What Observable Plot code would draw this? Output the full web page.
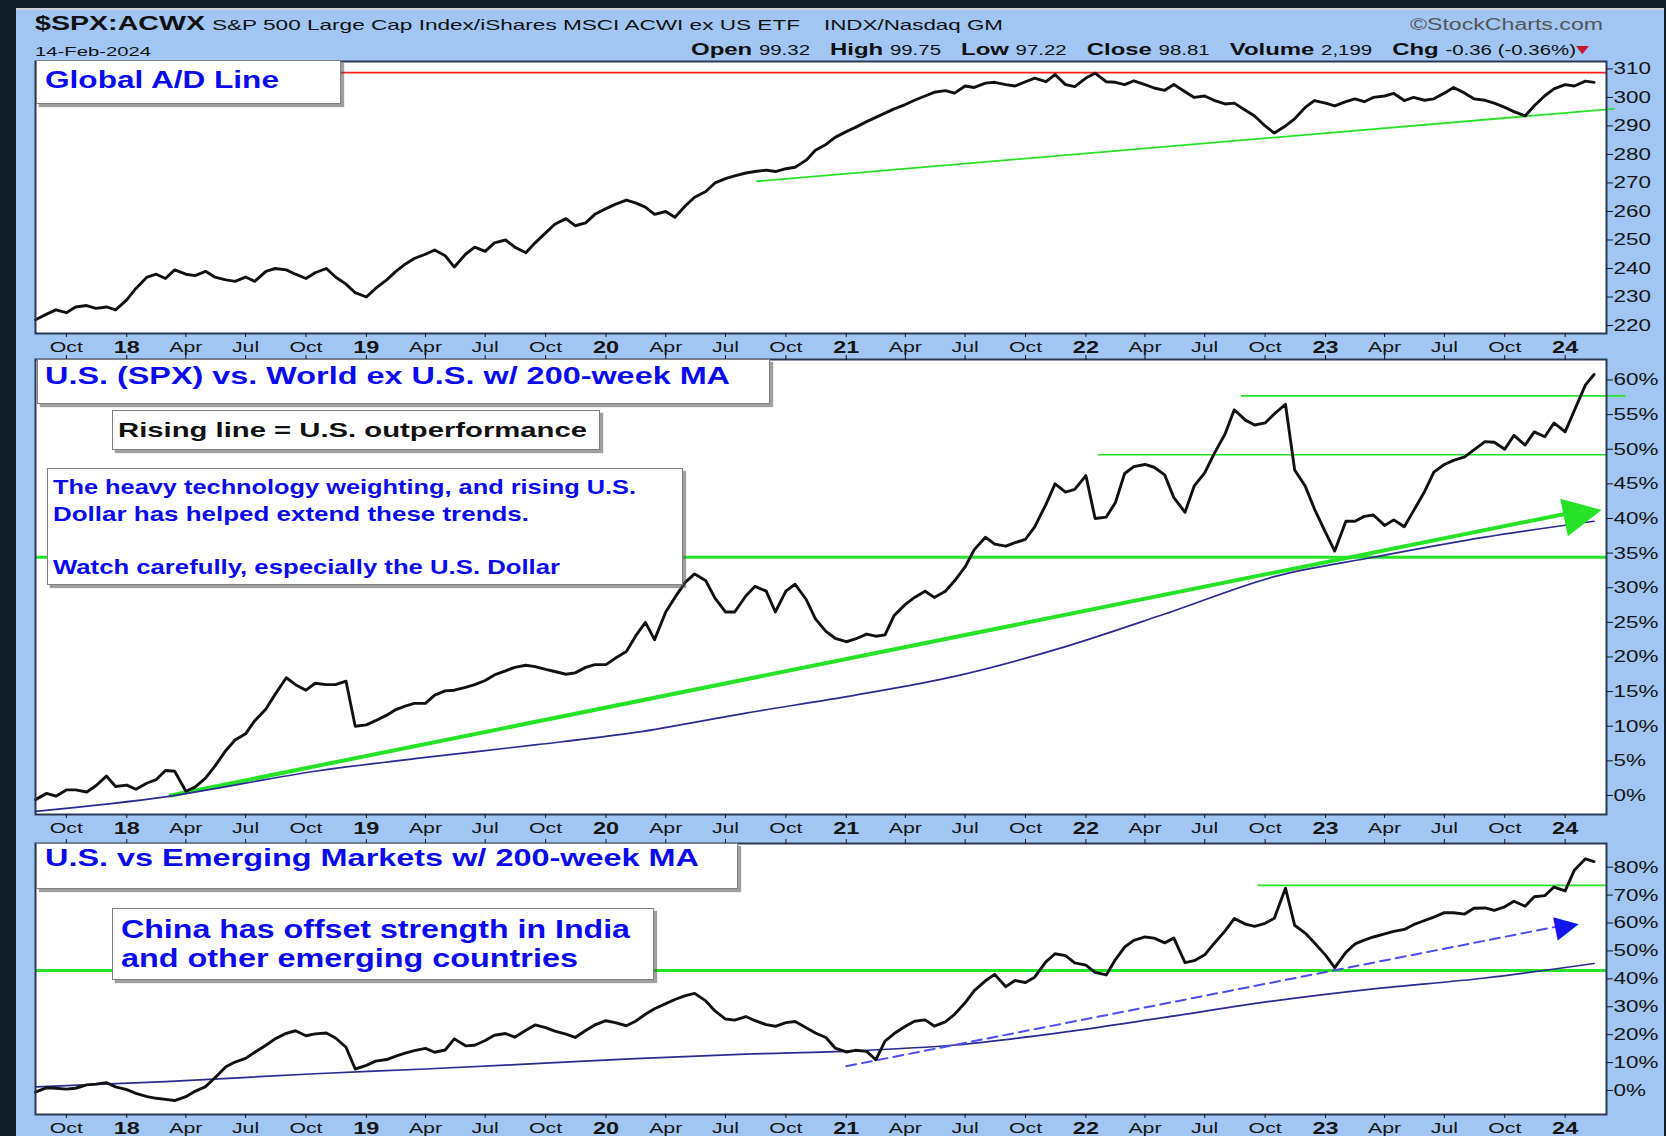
<!DOCTYPE html>
<html>
<head>
<meta charset="utf-8">
<script src="https://cdn.jsdelivr.net/npm/d3@7"></script>
<script src="https://cdn.jsdelivr.net/npm/@observablehq/plot@0.6"></script>
<style>
  html, body { margin:0; padding:0; background:#0f1d29; }
  #page { position:relative; width:1666px; height:1136px; overflow:hidden; background:#0f1d29; }
  #bg { position:absolute; left:16px; top:8px; width:1648px; height:1128px; background:#a1c6f4; border-top:2px solid #cdd2d8; }
  .t { position:absolute; white-space:nowrap; line-height:1; font-family:"Liberation Sans", Arial, sans-serif; transform-origin:0 50%; }
  .box { position:absolute; background:#fff; border:1px solid #808080; box-shadow:3px 3px 1px rgba(80,80,80,0.55); box-sizing:border-box; }
</style>
</head>
<body>
<div id="page"><div id="bg"></div></div>
<script>
// ---------------- DATA ----------------
const dates = [
"2017-08-15","2017-09-01","2017-09-15","2017-10-01","2017-10-15","2017-11-01","2017-11-15","2017-12-01","2017-12-15",
"2018-01-01","2018-01-15","2018-02-01","2018-02-15","2018-03-01","2018-03-15","2018-04-01","2018-04-15","2018-05-01","2018-05-15","2018-06-01","2018-06-15",
"2018-07-01","2018-07-15","2018-08-01","2018-08-15","2018-09-01","2018-09-15","2018-10-01","2018-10-15","2018-11-01","2018-11-15","2018-12-01","2018-12-15",
"2019-01-01","2019-01-15","2019-02-01","2019-02-15","2019-03-01","2019-03-15","2019-04-01","2019-04-15","2019-05-01","2019-05-15","2019-06-01","2019-06-15",
"2019-07-01","2019-07-15","2019-08-01","2019-08-15","2019-09-01","2019-09-15","2019-10-01","2019-10-15","2019-11-01","2019-11-15","2019-12-01","2019-12-15",
"2020-01-01","2020-01-15","2020-02-01","2020-02-15","2020-03-01","2020-03-15","2020-04-01","2020-04-15","2020-05-01","2020-05-15","2020-06-01","2020-06-15",
"2020-07-01","2020-07-15","2020-08-01","2020-08-15","2020-09-01","2020-09-15","2020-10-01","2020-10-15","2020-11-01","2020-11-15","2020-12-01","2020-12-15",
"2021-01-01","2021-01-15","2021-02-01","2021-02-15","2021-03-01","2021-03-15","2021-04-01","2021-04-15","2021-05-01","2021-05-15","2021-06-01","2021-06-15",
"2021-07-01","2021-07-15","2021-08-01","2021-08-15","2021-09-01","2021-09-15","2021-10-01","2021-10-15","2021-11-01","2021-11-15","2021-12-01","2021-12-15",
"2022-01-01","2022-01-15","2022-02-01","2022-02-15","2022-03-01","2022-03-15","2022-04-01","2022-04-15","2022-05-01","2022-05-15","2022-06-01","2022-06-15",
"2022-07-01","2022-07-15","2022-08-01","2022-08-15","2022-09-01","2022-09-15","2022-10-01","2022-10-15","2022-11-01","2022-11-15","2022-12-01","2022-12-15",
"2023-01-01","2023-01-15","2023-02-01","2023-02-15","2023-03-01","2023-03-15","2023-04-01","2023-04-15","2023-05-01","2023-05-15","2023-06-01","2023-06-15",
"2023-07-01","2023-07-15","2023-08-01","2023-08-15","2023-09-01","2023-09-15","2023-10-01","2023-10-15","2023-11-01","2023-11-15","2023-12-01","2023-12-15",
"2024-01-01","2024-01-15","2024-02-01","2024-02-14"
];

// Global A/D line
const adLine = [
222,224,225.5,224.5,226.5,227,226,226.5,225.5,
229,233,237,238,236.5,239.5,238,237.5,239,237,236,235.5,237,235.5,239,240,239.5,238,236.5,238.5,240,237,234.5,231.5,
230,233,236,239,241.5,243.5,245,246.5,244.5,240.5,245,247.5,246,249,250,247.5,245.5,249,252.5,255.5,257.5,255,256,259,
261,262.5,264,263,261.5,259,260,258,262,265,267,270,271.5,272.5,273.5,274,274.5,274,275,275.5,278,281.5,283.5,286,
288,289.5,291.5,293,294.5,296,297.5,299,300.5,301.8,302.4,301.5,304,303.5,305,305.3,304.5,304,305.5,306.8,305.5,308,304.5,303.8,
306.8,308.5,305.5,305.3,304.5,305.8,304.5,303.3,302.5,304.5,302,300,300.5,299,297.7,298,295.5,293.5,290,287.5,290,292.5,296.5,298.9,
298,297,298.5,299.5,298.5,300,300.5,301.4,298.9,300,299,299.5,301.5,303.5,301.5,299.5,299,298,296.5,295,293.5,297.1,300.6,303,
304.5,304,305.7,305.3
];

// U.S. (SPX) vs World ex U.S. (relative, %)
const usWorld = [
-0.6,0.3,-0.1,0.8,0.8,0.5,1.4,2.8,1.3,
1.5,0.9,1.8,2.3,3.6,3.5,0.6,1.2,2.5,4.2,6.5,8.0,8.9,10.8,12.5,14.6,17.0,16.0,15.2,16.2,16.0,16.0,16.5,10.0,
10.2,10.8,11.6,12.4,12.9,13.3,13.3,14.5,15.1,15.2,15.6,16.0,16.6,17.4,18.0,18.5,18.8,18.6,18.2,17.9,17.5,17.7,18.5,18.9,
18.9,19.8,20.8,23.0,25.0,22.5,26.5,28.6,30.8,32.0,31.0,28.5,26.5,26.5,28.8,30.2,29.5,26.5,29.5,30.5,28.3,25.5,23.7,22.7,
22.2,22.6,23.3,23.0,23.2,26.0,27.6,28.6,29.5,28.6,29.5,31.0,33.0,35.5,37.3,36.3,36.0,36.5,37.0,38.8,42.0,45.0,43.8,44.2,
46.2,40.0,40.2,42.3,46.5,47.5,47.8,47.4,46.3,43.0,40.9,44.7,46.6,49.3,52.2,55.7,54.2,53.5,53.8,55.1,56.5,47.0,44.7,41.4,
38.0,35.3,39.6,39.6,40.3,40.5,39.0,39.8,38.8,41.1,43.9,46.7,47.8,48.4,48.9,49.9,51.1,51.0,50.0,52.0,50.6,52.5,51.8,53.8,
52.5,55.6,59.3,60.8
];

// U.S. vs Emerging Markets (relative, %)
const usEm = [
-0.6,1.0,0.8,0.5,0.8,2.0,2.3,2.8,1.3,
0.3,-1.0,-2.2,-2.8,-3.2,-3.6,-2.2,-0.3,1.4,4.5,8.5,10.2,11.5,13.7,16.2,18.5,20.5,21.4,19.6,20.3,20.6,18.8,15.5,7.7,
9.0,10.5,11.1,12.3,13.4,14.3,15.1,13.7,14.5,18.5,16.0,16.2,17.9,19.8,20.4,19.1,21.6,23.5,22.5,21.3,20.2,19.0,21.5,23.5,
25.0,24.3,23.2,24.8,27.3,29.3,31.1,32.6,34.0,34.8,32.1,28.5,25.6,25.2,26.5,25.0,23.6,23.0,24.3,24.7,22.5,20.6,19.0,15.2,
13.8,14.4,14.0,11.0,17.7,20.4,23.0,24.8,25.3,23.1,24.6,27.3,31.4,35.8,39.3,41.6,37.2,39.4,38.7,40.6,46.1,49.0,48.3,45.7,
44.9,42.3,41.4,46.9,51.4,53.8,55.0,54.6,52.9,54.6,45.8,46.5,48.6,52.6,57.2,61.6,59.6,58.8,59.9,61.7,72.5,59.2,56.4,52.9,
48.5,44.0,49.5,52.5,53.9,55.0,56.1,57.0,57.7,59.4,60.9,62.1,63.7,63.7,63.2,65.3,65.4,64.5,65.8,67.8,66.0,69.4,69.8,72.9,
71.5,78.9,83.0,82.0
];

// 200-week moving averages
const maDates = ["2017-08-15","2018-03-01","2018-10-15","2019-04-01","2019-09-15","2020-02-15","2020-08-01","2021-01-15","2021-06-15","2021-12-01","2022-05-01","2022-10-15","2023-03-15","2023-09-01","2024-02-14"];
const usWorldMA = [-2.3,-0.2,3.5,5.5,7.3,9.1,11.9,14.5,17.2,21.5,26.2,31.6,34.4,37.3,39.6];
const usEmMA    = [1.3,3.2,6.0,7.7,9.6,11.4,13.0,14.2,16.3,21.0,26.2,32.1,36.4,40.3,45.5];

// annotation lines (data space)
const adRedLevel = [308.7];
const adGreenTrend = [["2020-08-18", 270.6], ["2024-03-15", 296.0]];
const usWorldLevels = [["2022-08-26", "2024-04-03", 57.7], ["2022-01-20", "2024-03-04", 49.2]];
const usWorldSupport = [34.4];
const usWorldTrend = [["2018-03-09", 0.0], ["2024-01-29", 41.2]];
const usWorldHead = [["2024-01-27", 41.1]];
const usEmLevels = [["2022-09-20", "2024-03-04", 73.5]];
const usEmSupport = [43.0];
const usEmTrend = [["2021-01-01", 8.7], ["2024-01-03", 59.4]];
const usEmHead = [["2024-01-03", 59.4]];

// ticks
const monthTicks = ["2017-10-01","2018-04-01","2018-07-01","2018-10-01","2019-04-01","2019-07-01","2019-10-01","2020-04-01","2020-07-01","2020-10-01","2021-04-01","2021-07-01","2021-10-01","2022-04-01","2022-07-01","2022-10-01","2023-04-01","2023-07-01","2023-10-01"];
const yearTicks = ["2018-01-01","2019-01-01","2020-01-01","2021-01-01","2022-01-01","2023-01-01","2024-01-01"];
const adTicks = [220,230,240,250,260,270,280,290,300,310];
const usWorldTicks = [0,5,10,15,20,25,30,35,40,45,50,55,60];
const usEmTicks = [0,10,20,30,40,50,60,70,80];

// ---------------- RENDER ----------------
const page = document.getElementById("page");
const parse = d3.utcParse("%Y-%m-%d");
const xDomain = [parse("2017-08-15"), parse("2024-03-04")];
const GREEN = "#27e327", NAVY = "#2b2b94", BLUE = "#0a0aee", FRAME = "#2a3a55";
const LINE_W = 2.9;

const toRows = (vals) => dates.map((d, i) => ({date: parse(d), value: vals[i]}));
const pairRows = (arr) => arr.map(([d, v]) => ({date: parse(d), value: v}));
const levelRows = (arr) => arr.map(([a, b, v]) => ({from: parse(a), to: parse(b), value: v}));
const maRows = (vals) => maDates.map((d, i) => ({date: parse(d), value: vals[i]}));

// widen axis tick labels horizontally (the reference text is horizontally stretched)
function stretch(svg, sel, k) {
  svg.querySelectorAll(sel).forEach(el => {
    const xa = el.getAttribute("x");
    if (xa != null && xa !== "" && !isNaN(+xa)) el.setAttribute("x", +xa / k);
    const tr = el.getAttribute("transform") || "";
    el.setAttribute("transform", (tr + ` scale(${k},1)`).trim());
  });
}

function panel(cfg) {
  const svg = Plot.plot({
    width: 1666, height: cfg.height,
    marginLeft: 35, marginRight: 60, marginTop: 10, marginBottom: cfg.mb,
    x: {type: "utc", domain: xDomain, axis: null},
    y: {domain: cfg.yDomain, axis: null},
    style: {background: "transparent", overflow: "visible", fontFamily: "'Liberation Sans', Arial, sans-serif", color: "#151515"},
    marks: [
      Plot.frame({fill: "#ffffff", stroke: "none"}),
      ...cfg.marks,
      Plot.frame({stroke: FRAME, strokeWidth: 2}),
      Plot.axisX({ticks: monthTicks.map(parse), tickFormat: d3.utcFormat("%b"), tickSize: 4, tickPadding: 4, fontSize: 15, label: null}),
      Plot.axisX({ticks: yearTicks.map(parse), tickFormat: d3.utcFormat("%y"), tickSize: 4, tickPadding: 4, fontSize: 16.5, fontWeight: "bold", label: null}),
      ...(cfg.topTicks ? [Plot.axisX({anchor: "top", ticks: monthTicks.concat(yearTicks).map(parse), tickSize: 5, tickPadding: 0, tickFormat: () => "", label: null})] : []),
      Plot.axisY({anchor: "right", ticks: cfg.yTicks, tickFormat: cfg.yFmt, tickSize: 6, tickPadding: 1, fontSize: 17, label: null})
    ]
  });
  svg.style.position = "absolute";
  svg.style.left = "0px";
  svg.style.top = cfg.top + "px";
  page.appendChild(svg);
  stretch(svg, 'g[aria-label="x-axis tick label"] text', 1.42);
  stretch(svg, 'g[aria-label="y-axis tick label"] text', 1.32);
  return svg;
}

// Panel 1: Global A/D line
panel({
  top: 51, height: 309, mb: 27, yDomain: [217.2, 312.6], yTicks: adTicks, yFmt: d => String(d), topTicks: false,
  marks: [
    Plot.ruleY(adRedLevel, {stroke: "#ff1f1f", strokeWidth: 1.6}),
    Plot.line(pairRows(adGreenTrend), {x: "date", y: "value", stroke: GREEN, strokeWidth: 1.8}),
    Plot.line(toRows(adLine), {x: "date", y: "value", stroke: "#111", strokeWidth: LINE_W})
  ]
});

// Panel 2: U.S. vs World ex U.S.
panel({
  top: 349, height: 493, mb: 28, yDomain: [-2.75, 62.96], yTicks: usWorldTicks, yFmt: d => d + "%", topTicks: true,
  marks: [
    Plot.ruleY(usWorldSupport, {stroke: GREEN, strokeWidth: 3}),
    Plot.ruleY(levelRows(usWorldLevels), {y: "value", x1: "from", x2: "to", stroke: GREEN, strokeWidth: 1.6}),
    Plot.line(pairRows(usWorldTrend), {x: "date", y: "value", stroke: GREEN, strokeWidth: 4}),
    Plot.line(maRows(usWorldMA), {x: "date", y: "value", stroke: NAVY, strokeWidth: 1.7, curve: "monotone-x"}),
    Plot.line(toRows(usWorld), {x: "date", y: "value", stroke: "#111", strokeWidth: LINE_W}),
    Plot.text(pairRows(usWorldHead), {x: "date", y: "value", text: () => "\u25B6", rotate: -11.4, fontSize: 50, fill: GREEN, fontFamily: "DejaVu Sans"})
  ]
});

// Panel 3: U.S. vs Emerging Markets
panel({
  top: 833, height: 303, mb: 22, yDomain: [-8.6, 88.49], yTicks: usEmTicks, yFmt: d => d + "%", topTicks: true,
  marks: [
    Plot.ruleY(usEmSupport, {stroke: GREEN, strokeWidth: 3}),
    Plot.ruleY(levelRows(usEmLevels), {y: "value", x1: "from", x2: "to", stroke: GREEN, strokeWidth: 1.6}),
    Plot.line(maRows(usEmMA), {x: "date", y: "value", stroke: NAVY, strokeWidth: 1.7, curve: "monotone-x"}),
    Plot.line(pairRows(usEmTrend), {x: "date", y: "value", stroke: "#4d4df2", strokeWidth: 2, strokeDasharray: "10,6"}),
    Plot.line(toRows(usEm), {x: "date", y: "value", stroke: "#111", strokeWidth: LINE_W}),
    Plot.text(pairRows(usEmHead), {x: "date", y: "value", text: () => "\u25B6", rotate: -11.1, fontSize: 31, fill: "#1414ee", fontFamily: "DejaVu Sans"})
  ]
});

// ---------------- TEXT ----------------
function box(x, y, w, h) {
  const b = document.createElement("div");
  b.className = "box";
  Object.assign(b.style, {left: x + "px", top: y + "px", width: w + "px", height: h + "px"});
  page.appendChild(b);
}
function txt(html, x, cy, size, o = {}) {
  const el = document.createElement("div");
  el.className = "t";
  el.innerHTML = html;
  el.style.left = x + "px";
  el.style.top = (cy - 0.49 * size) + "px";
  el.style.fontSize = size + "px";
  el.style.fontWeight = o.weight || "normal";
  el.style.color = o.color || "#111";
  if (o.family) el.style.fontFamily = o.family;
  page.appendChild(el);
  if (o.w) {
    const nat = el.getBoundingClientRect().width;
    el.style.transform = `scaleX(${o.w / nat})`;
  }
  return el;
}

// header
txt("$SPX:ACWX", 35, 23.7, 19.5, {weight: "bold", w: 170});
txt("S&amp;P 500 Large Cap Index/iShares MSCI ACWI ex US ETF", 212, 24.5, 15, {w: 588});
txt("INDX/Nasdaq GM", 824, 24.5, 15, {w: 179});
txt("\u00A9StockCharts.com", 1410, 24.5, 16, {w: 193, color: "#555"});
txt("14-Feb-2024", 35, 51, 13, {w: 116});
txt('<b>Open</b> <span style="font-size:14.5px">99.32</span>&nbsp;&nbsp; <b>High</b> <span style="font-size:14.5px">99.75</span>&nbsp;&nbsp; <b>Low</b> <span style="font-size:14.5px">97.22</span>&nbsp;&nbsp; <b>Close</b> <span style="font-size:14.5px">98.81</span>&nbsp;&nbsp; <b>Volume</b> <span style="font-size:14.5px">2,199</span>&nbsp;&nbsp; <b>Chg</b> <span style="font-size:14.5px">-0.36 (-0.36%)</span>', 691, 49.5, 17, {w: 885});
txt("\u25BC", 1576, 49, 11, {color: "#c41a30", family: "DejaVu Sans", w: 13});

// panel title boxes and notes
box(36, 60, 305, 44);
txt("Global A/D Line", 45, 80, 23, {weight: "bold", color: BLUE, w: 234});

box(37, 359, 733, 45);
txt("U.S. (SPX) vs. World ex U.S. w/ 200-week MA", 45, 377, 23.5, {weight: "bold", color: BLUE, w: 685});

box(112, 410, 488, 40);
txt("Rising line = U.S. outperformance", 118, 429, 21, {weight: "bold", color: "#111", w: 469});

box(47, 468, 636, 117);
txt("The heavy technology weighting, and rising U.S.", 53, 486, 21, {weight: "bold", color: BLUE, w: 583});
txt("Dollar has helped extend these trends.", 53, 513, 21, {weight: "bold", color: BLUE, w: 476});
txt("Watch carefully, especially the U.S. Dollar", 53, 566, 21, {weight: "bold", color: BLUE, w: 507});

box(36, 843, 702, 46);
txt("U.S. vs Emerging Markets w/ 200-week MA", 45, 859, 23.5, {weight: "bold", color: BLUE, w: 654});

box(112, 908, 542, 72);
txt("China has offset strength in India", 120.5, 929, 25, {weight: "bold", color: BLUE, w: 509});
txt("and other emerging countries", 120.5, 958, 25, {weight: "bold", color: BLUE, w: 457});
</script>
</body>
</html>
